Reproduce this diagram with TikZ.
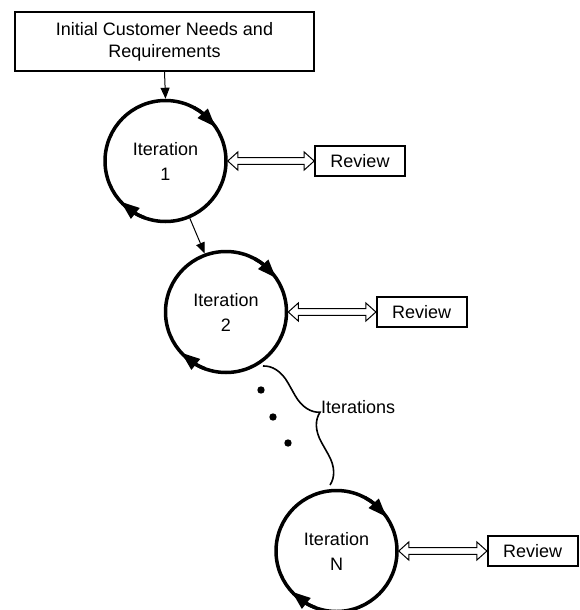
\documentclass[tikz,border=0pt]{standalone}
\usepackage{fontspec}
\setmainfont{Liberation Sans}
\usetikzlibrary{arrows.meta,bending,decorations.pathreplacing,calc}
\begin{document}
\begin{tikzpicture}[x=1pt,y=-1pt,
  iter/.style={circle,draw,line width=3.5pt,minimum size=121pt,inner sep=0pt,align=center,font=\fontsize{18}{25}\selectfont},
  revbox/.style={rectangle,draw,line width=1.6pt,minimum width=90pt,minimum height=30pt,inner sep=0pt,font=\fontsize{18}{21}\selectfont},
  topbox/.style={rectangle,draw,line width=1.2pt,minimum width=299pt,minimum height=59pt,inner sep=0pt,align=center,font=\fontsize{18}{21.7}\selectfont},
  ringtip/.style={line width=3.5pt,-{Triangle[length=19pt,width=13pt]}},
  flow/.style={line width=1pt,-{Triangle[length=11pt,width=9pt]}},
  dbl/.style={line width=1pt,fill=white,to path={let \p1=(\tikztostart),\p2=(\tikztotarget) in (\x1,\y1) -- ++(10pt,9pt) -- ++(0pt,-5.7pt) -- (\x2-10pt,\y1+3.3pt) -- ++(0pt,5.7pt) -- (\x2,\y1) -- ++(-10pt,-9pt) -- ++(0pt,5.7pt) -- (\x1+10pt,\y1-3.3pt) -- ++(0pt,-5.7pt) -- cycle}},
  bracestyle/.style={line width=1.6pt,decorate,decoration={brace,amplitude=27pt}},
]
\useasboundingbox (0,0) rectangle (579,610);

\node[topbox] (top) at (164.5,41.5) {Initial Customer Needs and\\Requirements};

\node[iter] (c1) at (165.5,161) {Iteration\\1};
\node[iter] (c2) at (226,312) {Iteration\\2};
\node[iter] (cN) at (336.5,551) {Iteration\\N};

\node[revbox] (r1) at (360,161) {Review};
\node[revbox] (r2) at (421.7,312) {Review};
\node[revbox] (rN) at (532.7,551) {Review};

% ring arrowheads (y axis is flipped, so angles are negated)
\foreach \c in {c1,c2,cN}{
  \draw[ringtip] (\c.center) ++(-62:60.5) arc[start angle=-62,end angle=-34,radius=60.5];
  \draw[ringtip] (\c.center) ++(110:60.5) arc[start angle=110,end angle=138,radius=60.5];
}

\draw[flow] (top.south) -- (c1.north);
\draw[flow] (c1.-67) -- (c2.110);

\draw[dbl] (c1.east) to (r1.west);
\draw[dbl] (c2.east) to (r2.west);
\draw[dbl] (cN.east) to (rN.west);

\fill (261,390) circle (3.7);
\fill (273,417) circle (3.7);
\fill (288,443) circle (3.7);

\coordinate (b1) at (263,366);
\coordinate (b2) at (330,485);
\draw[bracestyle] (b1) -- (b2);
\node[anchor=base west,inner sep=0pt,font=\fontsize{18}{21}\selectfont] (itlabel) at (321,413) {Iterations};
\end{tikzpicture}
\end{document}
